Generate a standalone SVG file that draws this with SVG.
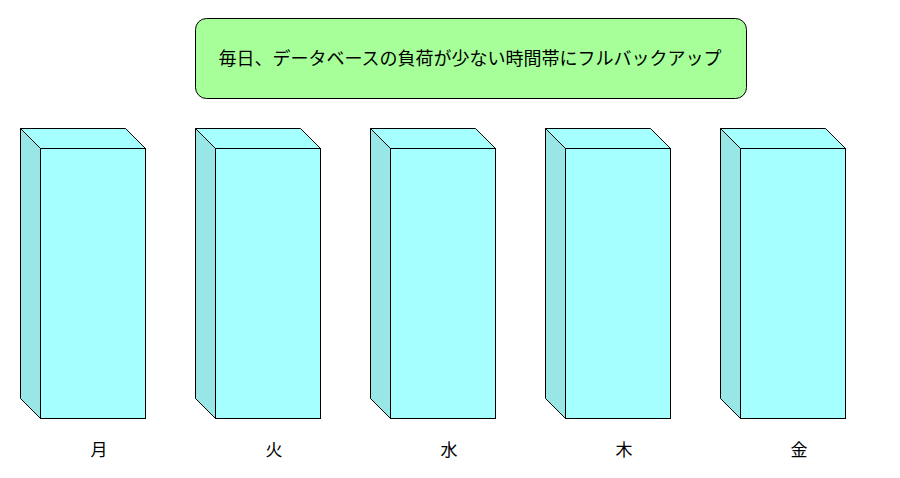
<svg xmlns="http://www.w3.org/2000/svg" width="900" height="478" viewBox="0 0 900 478">
<style>
.front{fill:#a6ffff;stroke:#000;stroke-width:1}
.top{fill:#a6ffff;stroke:#000;stroke-width:1}
.side{fill:#99e6e6;stroke:#000;stroke-width:1}
.lbl{font-family:"Liberation Sans","Noto Sans CJK JP",sans-serif;font-size:17px;fill:#000;text-anchor:middle}
.ttl{font-size:18px}
</style>
<defs>
<g id="box">
<polygon class="top" points="0,0 105,0 125,20 20,20"/>
<polygon class="side" points="0,0 20,20 20,290 0,270"/>
<rect class="front" x="20" y="20" width="105" height="270"/>
</g>
</defs>
<g id="title">
<rect x="195.5" y="18.5" width="551" height="80" rx="11" fill="#a6ff99" stroke="#000"/>
<text class="lbl ttl" x="470" y="65">毎日、データベースの負荷が少ない時間帯にフルバックアップ</text>
</g>
<g id="mon"><use href="#box" x="20.5" y="128.5"/><text class="lbl" x="99" y="456">月</text></g>
<g id="tue"><use href="#box" x="195.5" y="128.5"/><text class="lbl" x="274" y="456">火</text></g>
<g id="wed"><use href="#box" x="370.5" y="128.5"/><text class="lbl" x="449" y="456">水</text></g>
<g id="thu"><use href="#box" x="545.5" y="128.5"/><text class="lbl" x="624" y="456">木</text></g>
<g id="fri"><use href="#box" x="720.5" y="128.5"/><text class="lbl" x="799" y="456">金</text></g>
<g id="connectors"/>
</svg>
